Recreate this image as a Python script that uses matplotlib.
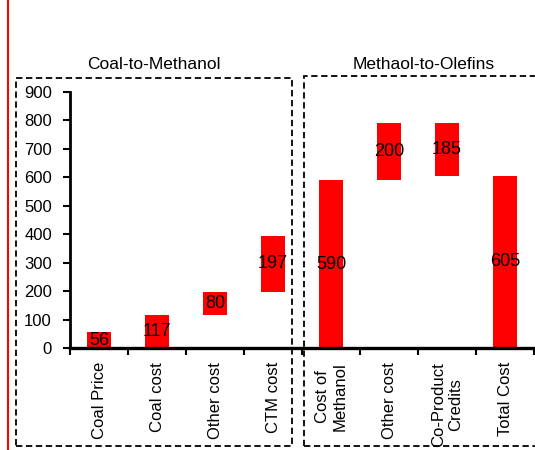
import matplotlib
matplotlib.use("Agg")
import matplotlib.pyplot as plt
from matplotlib.patches import Rectangle
from matplotlib.lines import Line2D
from matplotlib import font_manager
import numpy as np

plt.rcParams['font.family'] = ['Liberation Sans', 'DejaVu Sans']

# Cost build-up: coal-to-methanol then methanol-to-olefins
categories = ["Coal Price", "Coal cost", "Other cost", "CTM cost",
              "Cost of\nMethanol", "Other cost", "Co-Product\nCredits", "Total Cost"]
values = [56, 117, 80, 197, 590, 200, 185, 605]
bases = [0, 0, 117, 197, 0, 590, 605, 0]
yticks = [0, 100, 200, 300, 400, 500, 600, 700, 800, 900]

# value labels use a narrow face when one is installed
names = {f.name for f in font_manager.fontManager.ttflist}
if 'Liberation Sans Narrow' in names:
    label_family, label_size = 'Liberation Sans Narrow', 15.5
else:
    label_family, label_size = 'Liberation Sans', 13

W, H = 535, 450
fig = plt.figure(figsize=(W / 100, H / 100), dpi=100)

def fx(px):
    return px / W

def fy(py):
    return 1 - py / H

ax = fig.add_axes([fx(70), fy(348), fx(534) - fx(70), fy(92) - fy(348)])

x = np.arange(len(categories))
ax.bar(x, values, bottom=bases, width=0.4, color="#ff0000", zorder=2)
for xi, v, b in zip(x, values, bases):
    ax.text(xi, b + v / 2, str(v), ha="center", va="center",
            fontsize=label_size, family=[label_family, 'DejaVu Sans'],
            color="black", zorder=3)

ax.set_xlim(-0.5, 7.5)
ax.set_ylim(0, 900)
ax.set_yticks(yticks)
ax.set_xticks(x)
ax.set_xticklabels(categories, rotation=90, va="top", ha="center",
                   multialignment="center", fontsize=12)
ax.set_xticks(np.arange(-0.5, 8.0, 1.0), minor=True)
ax.tick_params(axis="x", which="major", length=0, pad=10)
ax.tick_params(axis="x", which="minor", length=5, width=1.5, direction="out")
ax.tick_params(axis="y", length=5, width=1.5, direction="out", pad=8, labelsize=12)

for s in ["top", "right"]:
    ax.spines[s].set_visible(False)
ax.spines["bottom"].set_linewidth(2.4)
ax.spines["left"].set_linewidth(2.0)
ax.spines["bottom"].set_zorder(4)
ax.patch.set_visible(False)

# dashed group frames
dash = (0, (3.5, 2))
fig.add_artist(Rectangle((fx(16), fy(446)), fx(292) - fx(16), fy(78) - fy(446),
                         transform=fig.transFigure, fill=False, edgecolor="black",
                         linewidth=1.3, linestyle=dash))
fig.add_artist(Rectangle((fx(304), fy(446)), fx(545) - fx(304), fy(76) - fy(446),
                         transform=fig.transFigure, fill=False, edgecolor="black",
                         linewidth=1.3, linestyle=dash))

fig.text(fx(153.5), fy(65), "Coal-to-Methanol", ha="center", va="center", fontsize=12.5)
fig.text(fx(424), fy(65), "Methaol-to-Olefins", ha="center", va="center", fontsize=12.5)

# red margin line
fig.add_artist(Line2D([fx(8), fx(8)], [0, 1], transform=fig.transFigure,
                      color="#ff0000", linewidth=1.5))

fig.savefig("out.png", dpi=100)
